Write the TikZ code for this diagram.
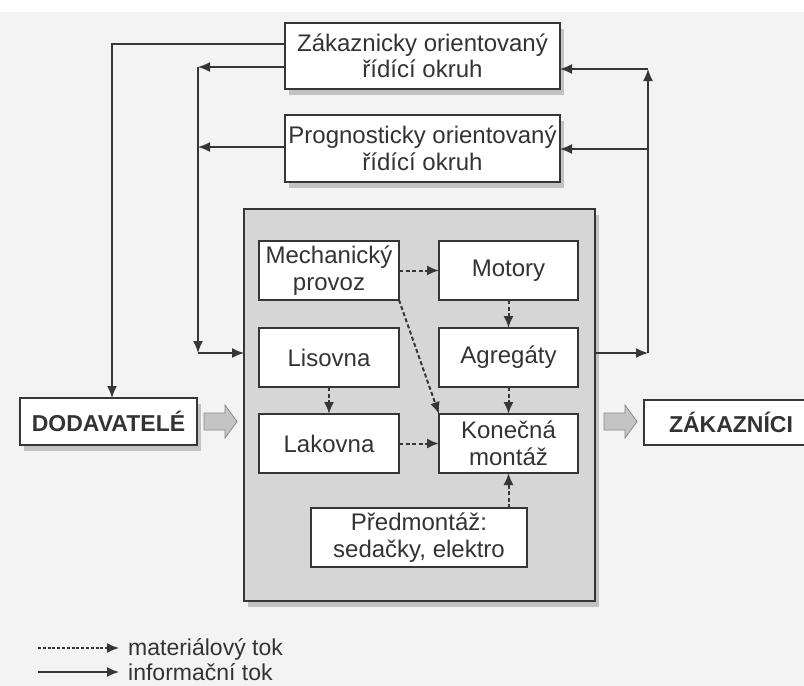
\documentclass[tikz,border=0pt]{standalone}
\usepackage{fontspec}
\setmainfont{Liberation Sans}
\usetikzlibrary{arrows.meta,shadows}
\definecolor{ink}{HTML}{333333}
\definecolor{edge}{HTML}{363636}
\definecolor{paper}{HTML}{F3F3F3}
\definecolor{plant}{HTML}{D6D6D6}
\definecolor{fatfill}{HTML}{C4C4C4}
\definecolor{fatedge}{HTML}{8A8A8A}
\definecolor{shadowcol}{HTML}{C2C2C2}
\begin{document}
\begin{tikzpicture}[x=1pt,y=-1pt,
  txt/.style={font=\fontsize{24}{26.5}\selectfont, text=ink, align=center},
  box/.style={txt, draw=edge, line width=1.5pt, fill=white,
    inner sep=0pt, outer sep=0pt},
  shadowed/.style={drop shadow={shadow xshift=4pt, shadow yshift=-6pt,
    fill=shadowcol, opacity=1}},
  info/.style={draw=edge, line width=1.5pt,
    -{Latex[length=12pt,width=10pt]}},
  mat/.style={draw=edge, line width=2pt, dash pattern=on 4pt off 2.5pt,
    -{Latex[length=12pt,width=10pt]}},
  fatarrow/.style={fill=fatfill, draw=fatedge, line width=0.8pt},
]
\clip (0,0) rectangle (804,686);
\fill[white] (0,0) rectangle (804,686);
\fill[paper] (0,12) rectangle (804,686);

% control loops
\node[box, shadowed, minimum width=275pt, minimum height=66pt] (zak) at (422.5,56)
  {Zákaznicky orientovaný\\řídící okruh};
\node[box, shadowed, minimum width=275pt, minimum height=67pt] (prog) at (422.5,148.5)
  {Prognosticky orientovaný\\řídící okruh};

% the plant
\node[draw=edge, line width=1.4pt, fill=plant, shadowed, inner sep=0pt, outer sep=0pt,
  minimum width=351pt, minimum height=392pt] (big) at (419.5,405) {};

\node[box, minimum width=140pt, minimum height=59pt] (mech) at (329,270.5) {Mechanický\\provoz};
\node[box, minimum width=139pt, minimum height=59pt] (motory) at (508.5,270.5) {Motory};
\node[box, minimum width=140pt, minimum height=59pt] (lis) at (329,357.5) {Lisovna};
\node[box, minimum width=139pt, minimum height=59pt] (agr) at (508.5,357.5) {Agregáty};
\node[box, minimum width=140pt, minimum height=59pt] (lak) at (329,443.5) {Lakovna};
\node[box, minimum width=139pt, minimum height=59pt] (kon) at (508.5,443.5) {Konečná\\montáž};
\node[box, minimum width=216pt, minimum height=59pt] (pred) at (419,537.5)
  {Předmontáž:\\sedačky, elektro};

% suppliers and customers
\node[box, shadowed, font=\fontsize{23}{26}\selectfont\bfseries,
  minimum width=177pt, minimum height=47pt] (dod) at (108.5,421.5) {DODAVATELÉ};
\node[box, font=\fontsize{23}{26}\selectfont\bfseries,
  minimum width=174pt, minimum height=45pt] (zakaz) at (731,422.5) {ZÁKAZNÍCI};

% flow of goods between the blocks
\filldraw[fatarrow] (204,413) -- (225,413) -- (225,405) -- (237,421.5)
  -- (225,438) -- (225,430) -- (204,430) -- cycle;
\filldraw[fatarrow] (604,413) -- (625,413) -- (625,405) -- (637,421.5)
  -- (625,438) -- (625,430) -- (604,430) -- cycle;

% material flow inside the plant
\draw[mat] (mech.east) -- (motory.west);
\draw[mat] (mech.south east) -- (kon.north west);
\draw[mat] (motory.south) -- (agr.north);
\draw[mat] (agr.south) -- (kon.north);
\draw[mat] (lis.south) -- (lak.north);
\draw[mat] (lak.east) -- (kon.west);
\draw[mat] (pred.north -| kon.south) -- (kon.south);

% information flow, left side
\coordinate (ja) at (112,44);
\coordinate (jb) at (198,67);
\coordinate (jc) at (198,147);
\coordinate (jd) at (198,353);
\draw[info] (zak.west |- ja) -- (ja) -- (ja |- dod.north);
\draw[info] (zak.west |- jb) -- (jb);
\draw[info] (prog.west |- jc) -- (jc);
\draw[info] (jb) -- (jd);
\draw[info] (jd) -- (jd -| big.west);

% information flow, right side
\coordinate (ka) at (648,353);
\coordinate (kb) at (648,69);
\coordinate (kc) at (648,149);
\draw[info] (ka -| big.east) -- (ka);
\draw[info] (ka) -- (kb);
\draw[info] (kb) -- (kb -| zak.east);
\draw[info] (kc) -- (kc -| prog.east);

% legend
\coordinate (m0) at (38,648);
\coordinate (m1) at (119,648);
\coordinate (i0) at (38,672);
\coordinate (i1) at (119,672);
\draw[mat, line width=1.5pt, dash pattern=on 3pt off 1.8pt] (m0) -- (m1);
\draw[info] (i0) -- (i1);
\node[txt, font=\fontsize{23}{26}\selectfont, anchor=base west, inner sep=0pt] (mt)
  at (128,655) {materiálový tok};
\node[txt, font=\fontsize{23}{26}\selectfont, anchor=base west, inner sep=0pt] (it)
  at (128,680) {informační tok};
\end{tikzpicture}
\end{document}
